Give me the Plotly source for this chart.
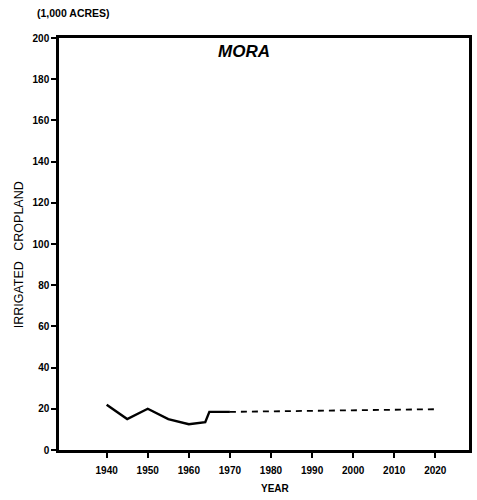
import plotly.graph_objects as go

# Irrigated cropland, Mora County (thousand acres)
hist_years = [1940, 1945, 1950, 1955, 1960, 1964, 1965, 1970]
hist_acres = [22, 15, 20, 15, 12.5, 13.5, 18.5, 18.5]
proj_years = [1970, 2020]
proj_acres = [18.5, 19.8]

x_ticks = [1940, 1950, 1960, 1970, 1980, 1990, 2000, 2010, 2020]
x_tick_text = ["1940", "1950", "1960", "1970", "1980", "1990", "2000", "2010", "2020"]
y_ticks = [0, 20, 40, 60, 80, 100, 120, 140, 160, 180, 200]

FONT = "Liberation Sans"

# plot area in pixels
L, R, T, B = 59, 5, 38, 50
PW, PH = 477 - L - R, 500 - T - B


def px(xp):
    return (xp - L) / PW


def py(yp):
    return (500 - B - yp) / PH


fig = go.Figure()
fig.add_trace(go.Scatter(x=hist_years, y=hist_acres, mode="lines",
                         line=dict(color="black", width=2.4), hoverinfo="skip"))
fig.add_trace(go.Scatter(x=proj_years, y=proj_acres, mode="lines",
                         line=dict(color="black", width=1.8, dash="6px,5px"), hoverinfo="skip"))

axis_common = dict(showgrid=False, zeroline=False, showline=True, linecolor="black",
                   linewidth=2.5, mirror=True, ticks="outside", ticklen=5, tickwidth=1.5,
                   tickcolor="black",
                   tickfont=dict(family=FONT, size=10, color="black", weight="bold"))

fig.update_layout(
    width=477, height=500,
    margin=dict(l=L, r=R, t=T, b=B),
    plot_bgcolor="white", paper_bgcolor="white",
    showlegend=False,
    xaxis=dict(range=[1928.4, 2028.2], tickvals=x_ticks, ticktext=x_tick_text,
               ticklabelstandoff=4, **axis_common),
    yaxis=dict(range=[0, 200], tickvals=y_ticks, ticklabelstandoff=0, **axis_common),
    annotations=[
        dict(text="<b><i>MORA</i></b>", x=px(245), y=py(52), xref="paper", yref="paper",
             xanchor="center", yanchor="middle", showarrow=False,
             font=dict(family=FONT, size=17, color="black")),
        dict(text="<b>(1,000 ACRES)</b>", x=px(35), y=py(13), xref="paper", yref="paper",
             showarrow=False, xanchor="left", yanchor="middle",
             font=dict(family=FONT, size=10.5, color="black")),
        dict(text="IRRIGATED   CROPLAND", x=px(19), y=py(255), xref="paper", yref="paper",
             xanchor="center", yanchor="middle", showarrow=False, textangle=-90,
             font=dict(family=FONT, size=12.5, color="black")),
        dict(text="<b>YEAR</b>", x=px(277), y=py(488), xref="paper", yref="paper",
             xanchor="center", yanchor="middle", showarrow=False,
             font=dict(family=FONT, size=10, color="black")),
    ],
)

fig.write_html("out.html")
